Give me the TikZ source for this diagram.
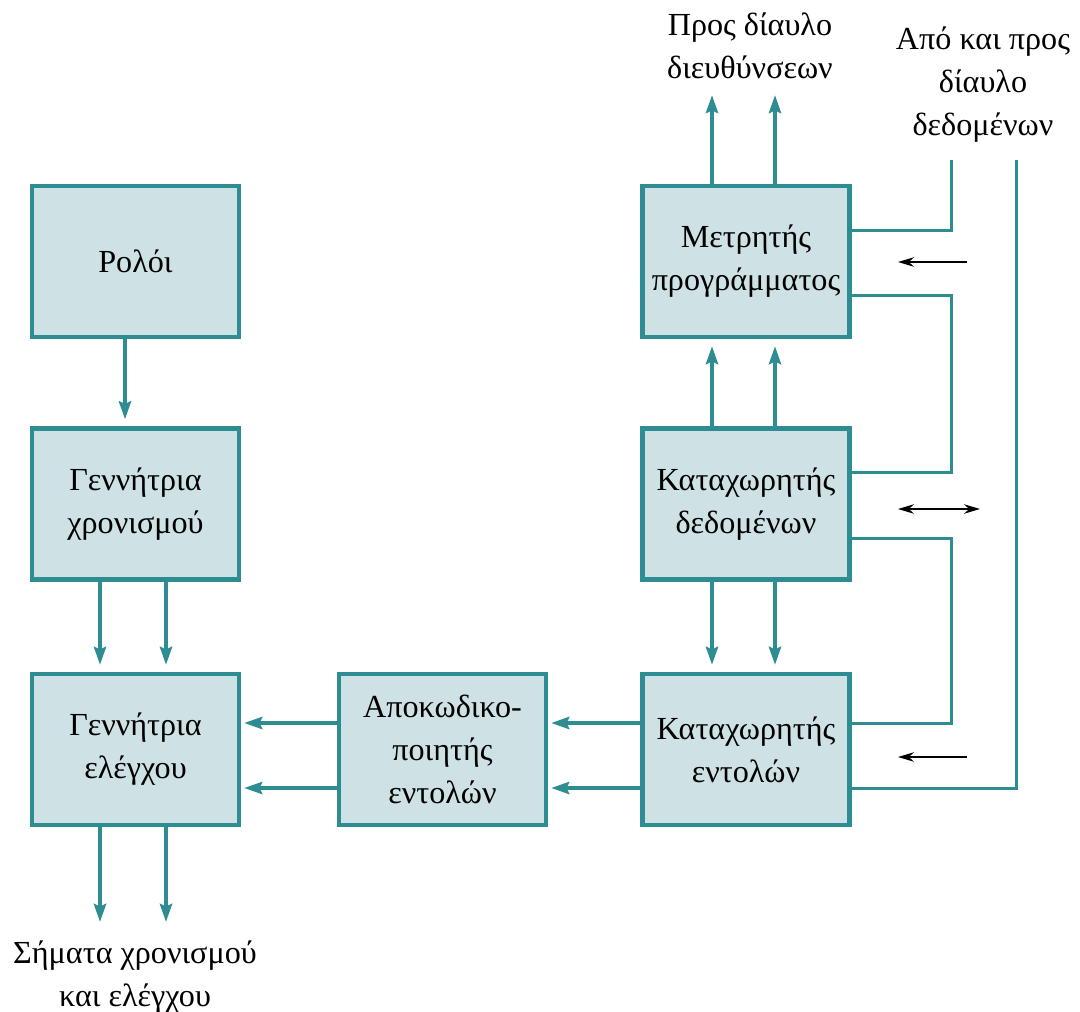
\documentclass[tikz,border=0pt]{standalone}
\usepackage{fontspec}
\setmainfont{Liberation Serif}
\usetikzlibrary{arrows.meta,calc}
\definecolor{teal0}{HTML}{2E8D92}
\definecolor{boxfill}{HTML}{CEE1E4}
\newcommand\dgtxt{\fontsize{18.3}{24.5}\selectfont}

\begin{document}
\begin{tikzpicture}[x=0.02cm,y=-0.02cm,
  unit/.style={draw=teal0,fill=boxfill,line width=0.085cm,
    minimum width=4.14cm,minimum height=3.02cm,align=center,
    inner sep=0pt,font=\dgtxt},
  lbl/.style={align=center,font=\dgtxt,inner sep=0pt},
  flow/.style={draw=teal0,line width=0.08cm,
    -{Stealth[length=0.36cm,width=0.24cm,inset=0.05cm]}},
  vflow/.style={flow,shorten >=0.14cm},
  hflow/.style={flow,shorten >=0.06cm},
  bus/.style={draw=teal0,line width=0.06cm},
  dir/.style={draw=black,line width=0.8pt,
    -{Stealth[length=0.32cm,width=0.19cm]}},
  dirboth/.style={draw=black,line width=0.8pt,
    {Stealth[length=0.32cm,width=0.19cm]}-{Stealth[length=0.32cm,width=0.19cm]}}]
\useasboundingbox (0,0) rectangle (1080,1012);

% functional units
\node[unit] (clk) at (135.5,261.5) {Ρολόι};
\node[unit] (tgen) at (135.5,504) {Γεννήτρια\\χρονισμού};
\node[unit] (cgen) at (135.5,749.5) {Γεννήτρια\\ελέγχου};
\node[unit] (dec) at (442.5,749.5) {Αποκωδικο-\\ποιητής\\εντολών};
\node[unit] (ir) at (746,749.5) {Καταχωρητής\\εντολών};
\node[unit] (dr) at (746,504) {Καταχωρητής\\δεδομένων};
\node[unit] (pc) at (746,261.5) {Μετρητής\\προγράμματος};

% external labels
\node[lbl] (addrbus) at (750,46) {Προς δίαυλο\\διευθύνσεων};
\node[lbl] (databus) at (983,85) {Από και προς\\δίαυλο\\δεδομένων};
\node[lbl] (signals) at (135,977) {Σήματα χρονισμού\\και ελέγχου};

% free ends of the signal lines
\coordinate (aUp1) at (712,95);
\coordinate (aUp2) at (775,95);
\coordinate (sOut1) at (100,922);
\coordinate (sOut2) at (166,922);
\coordinate (busL) at (951,160);
\coordinate (busR) at (1016,160);

% clock and control chain
\draw[vflow] (clk.south -| 125,0) -- (tgen.north -| 125,0);
\draw[vflow] (tgen.south -| 100,0) -- (cgen.north -| 100,0);
\draw[vflow] (tgen.south -| 166,0) -- (cgen.north -| 166,0);
\draw[flow] (cgen.south -| sOut1) -- (sOut1);
\draw[flow] (cgen.south -| sOut2) -- (sOut2);

% instruction path
\draw[hflow] (dec.west |- 0,723) -- (cgen.east |- 0,723);
\draw[hflow] (dec.west |- 0,788) -- (cgen.east |- 0,788);
\draw[hflow] (ir.west |- 0,723) -- (dec.east |- 0,723);
\draw[hflow] (ir.west |- 0,788) -- (dec.east |- 0,788);

% register column
\draw[flow] (pc.north -| aUp1) -- (aUp1);
\draw[flow] (pc.north -| aUp2) -- (aUp2);
\draw[vflow] (dr.north -| 712,0) -- (pc.south -| 712,0);
\draw[vflow] (dr.north -| 775,0) -- (pc.south -| 775,0);
\draw[vflow] (dr.south -| 712,0) -- (ir.north -| 712,0);
\draw[vflow] (dr.south -| 775,0) -- (ir.north -| 775,0);

% data bus lines
\draw[bus] (pc.east |- 0,230) -| (busL);
\draw[bus] (pc.east |- 0,295) -| (951,472) -- (dr.east |- 0,472);
\draw[bus] (dr.east |- 0,538) -| (951,723) -- (ir.east |- 0,723);
\draw[bus] (busR) |- (ir.east |- 0,788);

% transfer directions
\coordinate (d1a) at (967,262); \coordinate (d1b) at (898,262);
\coordinate (d2a) at (898,509); \coordinate (d2b) at (980,509);
\coordinate (d3a) at (967,757); \coordinate (d3b) at (898,757);
\draw[dir] (d1a) -- (d1b);
\draw[dirboth] (d2a) -- (d2b);
\draw[dir] (d3a) -- (d3b);
\end{tikzpicture}
\end{document}
